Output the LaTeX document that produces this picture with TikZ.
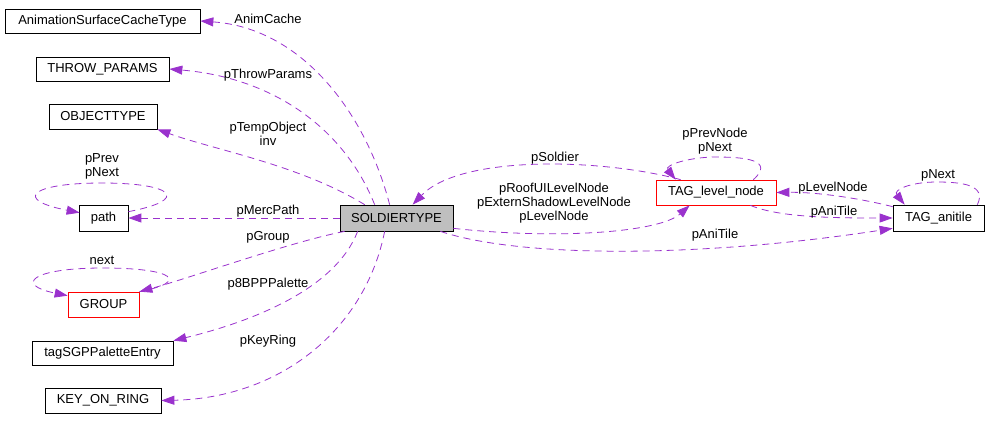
\documentclass[tikz,border=0pt]{standalone}
\usepackage{fontspec}
\setmainfont{Liberation Sans}
\usetikzlibrary{arrows.meta,calc}
\definecolor{edgecol}{RGB}{154,50,205}
\definecolor{boxgray}{RGB}{191,191,191}
\begin{document}
\begin{tikzpicture}[x=1pt,y=-1pt,
 box/.style={draw=black,line width=0.7pt,inner sep=0pt,font=\fontsize{13}{14}\selectfont},
 lbl/.style={inner sep=0pt,align=center,font=\fontsize{13}{14}\selectfont},
 dep/.style={draw=edgecol,line width=0.8pt,dash pattern=on 7pt off 5pt,-{Triangle[length=13pt,width=9pt,fill=edgecol]}}]
\useasboundingbox (0,0) rectangle (992,429);
% nodes
\node[box,minimum width=195pt,minimum height=24pt] (anim) at (102.5,21) {AnimationSurfaceCacheType};
\node[box,minimum width=133pt,minimum height=24pt] (throw) at (102.5,69) {THROW\_PARAMS};
\node[box,minimum width=108pt,minimum height=25pt] (obj) at (103,116.5) {OBJECTTYPE};
\node[box,minimum width=49pt,minimum height=26pt] (path) at (103.5,218) {path};
\node[box,draw=red,minimum width=71pt,minimum height=25pt] (group) at (103.5,304.5) {GROUP};
\node[box,minimum width=141pt,minimum height=24pt] (tag) at (102.5,353) {tagSGPPaletteEntry};
\node[box,minimum width=116pt,minimum height=25pt] (key) at (103,400.5) {KEY\_ON\_RING};
\node[box,fill=boxgray,minimum width=113pt,minimum height=26pt] (soldier) at (396.5,218) {SOLDIERTYPE};
\node[box,draw=red,minimum width=120pt,minimum height=25pt] (level) at (716,192.5) {TAG\_level\_node};
\node[box,minimum width=91pt,minimum height=26pt] (ani) at (938.5,218) {TAG\_anitile};
% edges from SOLDIERTYPE to the left column
\draw[dep] ($(soldier.north west)+(50,0)$) .. controls (365,110) and (300,28) .. (anim.east);
\draw[dep] ($(soldier.north west)+(35,0)$) .. controls (345,130) and (275,78) .. (throw.east);
\draw[dep] ($(soldier.north west)+(25,0)$) .. controls (300,165) and (215,150) .. (obj.south east);
\draw[dep] (soldier.west) -- (path.east);
\draw[dep] ($(soldier.south west)+(5,0)$) .. controls (290,242) and (190,278) .. (group.north east);
\draw[dep] ($(soldier.south west)+(18,0)$) .. controls (335,290) and (250,322) .. (tag.north east);
\draw[dep] ($(soldier.south west)+(45,0)$) .. controls (365,330) and (280,398) .. (key.east);
% self loops
\draw[dep] ($(path.north east)+(0,7)$) .. controls (190,200) and (175,183) .. (102,183) .. controls (29,183) and (14,200) .. ($(path.north west)+(1,8)$);
\draw[dep] (group.north east) .. controls (190,282) and (175,268) .. (103,268) .. controls (30,268) and (15,285) .. ($(group.north west)+(0,4)$);
\draw[dep] ($(level.north east)+(-23,0)$) .. controls (775,160) and (745,157) .. (716,157) .. controls (690,157) and (664,165) .. ($(level.north west)+(20,0)$);
\draw[dep] ($(ani.north east)+(-7,0)$) .. controls (987,185) and (962,182) .. (937,182) .. controls (910,182) and (893,190) .. ($(ani.north west)+(12,0)$);
% right part
\draw[dep] ($(level.north west)+(25,0)$) .. controls (600,158) and (460,155) .. ($(soldier.north west)+(73,0)$);
\draw[dep] ($(soldier.south east)+(0,-3)$) .. controls (560,240) and (660,232) .. ($(level.south west)+(34,0)$);
\draw[dep] ($(ani.north west)+(0,2)$) .. controls (850,196) and (810,192) .. (level.east);
\draw[dep] ($(level.south east)+(-26,0)$) .. controls (780,218) and (840,218) .. (ani.west);
\draw[dep] ($(soldier.south east)+(-13,0)$) .. controls (520,258) and (700,258) .. ($(ani.south west)+(0,-3)$);
% labels
\node[lbl] (l1) at (268,19) {AnimCache};
\node[lbl] (l2) at (268,75) {pThrowParams};
\node[lbl] (l3) at (268,133.5) {pTempObject\\inv};
\node[lbl] (l4) at (268,211) {pMercPath};
\node[lbl] (l5) at (268,237) {pGroup};
\node[lbl] (l6) at (268,284) {p8BPPPalette};
\node[lbl] (l7) at (268,341) {pKeyRing};
\node[lbl] (l8) at (102,166) {pPrev\\pNext};
\node[lbl] (l9) at (102,260) {next};
\node[lbl] (l10) at (555,158) {pSoldier};
\node[lbl] (l11) at (554,203) {pRoofUILevelNode\\pExternShadowLevelNode\\pLevelNode};
\node[lbl] (l12) at (715,141) {pPrevNode\\pNext};
\node[lbl] (l13) at (833,188) {pLevelNode};
\node[lbl] (l14) at (834,212) {pAniTile};
\node[lbl] (l15) at (715,235) {pAniTile};
\node[lbl] (l16) at (938,175) {pNext};
\end{tikzpicture}
\end{document}
